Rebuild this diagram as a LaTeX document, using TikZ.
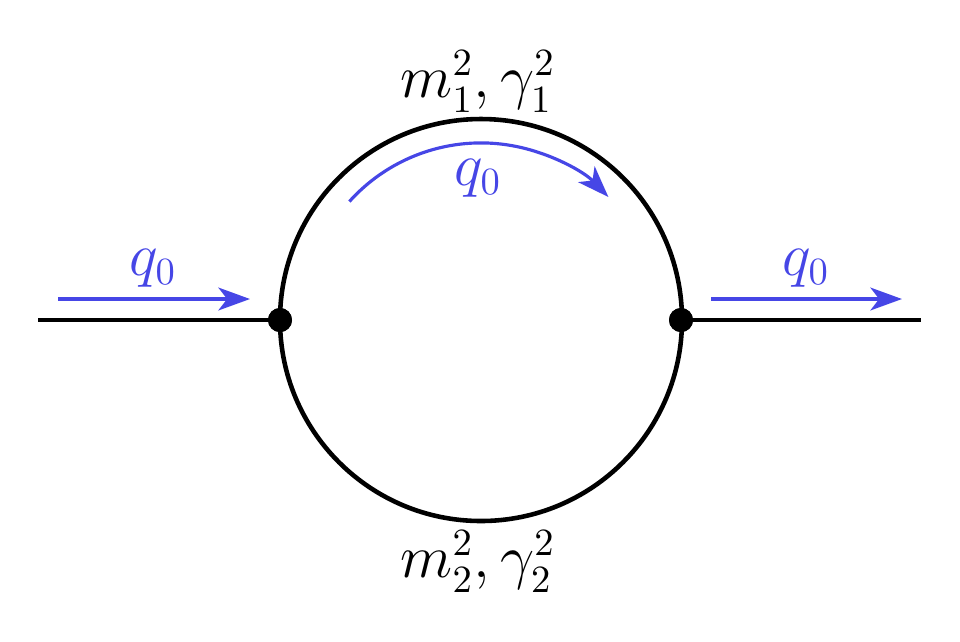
\documentclass[tikz,border=0pt]{standalone}
\usetikzlibrary{arrows.meta}
\definecolor{qblue}{RGB}{70,70,230}
\begin{document}
\begin{tikzpicture}[x=0.01cm,y=-0.01cm,
  prop/.style={line width=1.3pt,black},
  mom/.style={line width=0.9pt,qblue,-{Stealth[length=9pt,width=6.5pt,inset=2.5pt]}},
  vtx/.style={circle,fill=black,inner sep=0pt,minimum size=24*0.01cm},
  lbl/.style={inner sep=0pt,font=\fontsize{16}{19}\selectfont},
  qlbl/.style={lbl,text=qblue}]
\useasboundingbox (0,0) rectangle (960,641);
\coordinate (c) at (481,320);
\node[vtx] (v1) at (280,320) {};
\node[vtx] (v2) at (681,320) {};
\coordinate (inL) at (38,320);
\coordinate (outR) at (921,320);
\draw[prop] (c) circle[radius=201*0.01cm];
\draw[prop] (inL) -- (v1.center);
\draw[prop] (v2.center) -- (outR);
\node[vtx] at (280,320) {};
\node[vtx] at (681,320) {};
% momentum arrows
\coordinate (a1s) at (58,299);
\coordinate (a1e) at (250,299);
\coordinate (a2s) at (711,299);
\coordinate (a2e) at (902,299);
\draw[mom] (a1s) -- (a1e);
\draw[mom] (a2s) -- (a2e);
\draw[mom] ([shift={(138:1.77cm)}]c) arc[start angle=138,end angle=44,radius=1.77cm];
% labels
\node[qlbl] (q1) at (153,268) {$q_0$};
\node[qlbl] (q2) at (806,268) {$q_0$};
\node[qlbl] (q3) at (478,178) {$q_0$};
\node[lbl] (m1) at (478,82) {$m_1^2,\gamma_1^2$};
\node[lbl] (m2) at (478,562) {$m_2^2,\gamma_2^2$};
\end{tikzpicture}
\end{document}
